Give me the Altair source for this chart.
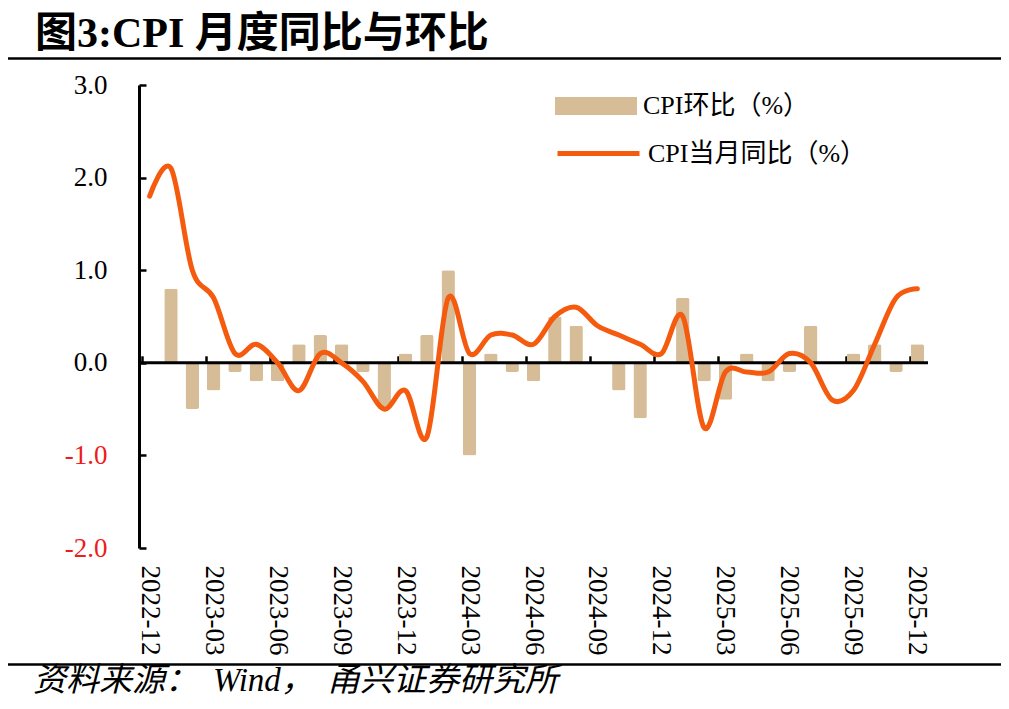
import altair as alt
import pandas as pd

# ---------------- data ----------------
months = [
    "2022-12", "2023-01", "2023-02", "2023-03", "2023-04", "2023-05", "2023-06",
    "2023-07", "2023-08", "2023-09", "2023-10", "2023-11", "2023-12",
    "2024-01", "2024-02", "2024-03", "2024-04", "2024-05", "2024-06",
    "2024-07", "2024-08", "2024-09", "2024-10", "2024-11", "2024-12",
    "2025-01", "2025-02", "2025-03", "2025-04", "2025-05", "2025-06",
    "2025-07", "2025-08", "2025-09", "2025-10", "2025-11", "2025-12",
]
cpi_mom = [0.0, 0.8, -0.5, -0.3, -0.1, -0.2, -0.2, 0.2, 0.3, 0.2, -0.1, -0.5, 0.1,
           0.3, 1.0, -1.0, 0.1, -0.1, -0.2, 0.5, 0.4, 0.0, -0.3, -0.6, 0.0,
           0.7, -0.2, -0.4, 0.1, -0.2, -0.1, 0.4, 0.0, 0.1, 0.2, -0.1, 0.2]
cpi_yoy = [1.8, 2.1, 1.0, 0.7, 0.1, 0.2, 0.0, -0.3, 0.1, 0.0, -0.2, -0.5, -0.3,
           -0.8, 0.7, 0.1, 0.3, 0.3, 0.2, 0.5, 0.6, 0.4, 0.3, 0.2, 0.1,
           0.5, -0.7, -0.1, -0.1, -0.1, 0.1, 0.0, -0.4, -0.3, 0.2, 0.7, 0.8]
label_months = ["2022-12", "2023-03", "2023-06", "2023-09", "2023-12", "2024-03", "2024-06",
                "2024-09", "2024-12", "2025-03", "2025-06", "2025-09", "2025-12"]
y_ticks = [-2, -1, 0, 1, 2, 3]

LABEL_MOM = "CPI环比（%）"
LABEL_YOY = "CPI当月同比（%）"
TITLE = "图3:CPI 月度同比与环比"
SOURCE_PARTS = ["资料来源：", "Wind，", "甬兴证券研究所"]

# ---------------- style ----------------
W, H = 789, 463
FONT = "Liberation Serif, Noto Sans CJK SC"
TAN = "#D6BD97"
ORANGE = "#F55B0E"
ZERO_Y = H * 3 / 5

df = pd.DataFrame({"month": months, "mom": cpi_mom, "yoy": cpi_yoy})
df["s1"] = LABEL_MOM
df["s2"] = LABEL_YOY

x_scale = alt.Scale(domain=months, paddingInner=0.37, paddingOuter=0.185)
y_scale = alt.Scale(domain=[-2, 3], nice=False, zero=False)

base = alt.Chart(df)

bars = base.mark_bar(cornerRadius=2).encode(
    x=alt.X("month:N", scale=x_scale,
            axis=alt.Axis(orient="bottom", values=label_months, labelAngle=90,
                          labelFont="Liberation Serif", labelFontSize=27,
                          labelColor="black", labelPadding=17, ticks=False,
                          domain=False, grid=False, title=None, labelOverlap=False)),
    y=alt.Y("mom:Q", scale=y_scale,
            axis=alt.Axis(orient="left", values=y_ticks,
                          labelExpr="(datum.value < 0 ? '-' : '') + format(abs(datum.value), '.1f')",
                          labelFont="Liberation Serif", labelFontSize=27,
                          labelColor={"condition": {"test": "datum.value < 0", "value": "#EE1C1C"},
                                      "value": "black"},
                          labelPadding=32, ticks=False, domain=True,
                          domainColor="black", domainWidth=3, grid=False, title=None)),
    color=alt.Color("s1:N", scale=alt.Scale(domain=[LABEL_MOM], range=[TAN]),
                    legend=alt.Legend(orient="none", legendX=416, legendY=-20, title=None,
                                      symbolType="M-1,-0.22H1V0.22H-1Z", symbolSize=6724,
                                      symbolStrokeWidth=0, symbolOpacity=1,
                                      labelFont=FONT, labelFontSize=26, labelColor="black",
                                      labelOffset=6, labelLimit=0, padding=0)),
)

zero_rule = alt.Chart(pd.DataFrame({"z": [0]})).mark_rule(color="black", strokeWidth=3).encode(
    y=alt.Y("z:Q", scale=y_scale, axis=None)
)

line = base.mark_line(interpolate="cardinal", strokeWidth=5, strokeCap="round",
                      strokeJoin="round").encode(
    x=alt.X("month:N", scale=x_scale,
            axis=alt.Axis(orient="top", offset=-ZERO_Y, values=label_months, bandPosition=0,
                          labels=False, domain=False, ticks=True, tickSize=7, tickWidth=2.5,
                          tickColor="black", grid=False, title=None)),
    y=alt.Y("yoy:Q", scale=y_scale,
            axis=alt.Axis(orient="right", offset=-W, values=y_ticks, labels=False,
                          domain=False, ticks=True, tickSize=7, tickWidth=2.5,
                          tickColor="black", grid=False, title=None)),
    stroke=alt.Stroke("s2:N", scale=alt.Scale(domain=[LABEL_YOY], range=[ORANGE]),
                      legend=alt.Legend(orient="none", legendX=416, legendY=25, title=None,
                                        symbolType="stroke", symbolSize=6724,
                                        symbolStrokeWidth=5,
                                        labelFont=FONT, labelFontSize=26, labelColor="black",
                                        labelOffset=6, labelLimit=0, padding=0)),
)

frame = pd.DataFrame({"t": [0]})
top_rule = alt.Chart(frame).mark_rule(color="black", strokeWidth=2.5).encode(
    x=alt.value(-133), x2=alt.value(870), y=alt.value(-26.5))
bottom_rule = alt.Chart(frame).mark_rule(color="black", strokeWidth=2.5).encode(
    x=alt.value(-133), x2=alt.value(870), y=alt.value(579.5))

title = alt.Chart(pd.DataFrame({"t": [TITLE]})).mark_text(
    align="left", baseline="alphabetic", font=FONT, fontSize=42, fontWeight="bold",
    color="black").encode(text="t:N", x=alt.value(-104), y=alt.value(-38))


def source_piece(text, xpos):
    return alt.Chart(pd.DataFrame({"t": [text]})).mark_text(
        align="left", baseline="alphabetic", font=FONT, fontSize=33, fontStyle="italic",
        color="black").encode(text="t:N", x=alt.value(xpos), y=alt.value(606))


src1 = source_piece(SOURCE_PARTS[0], -106)
src2 = source_piece(SOURCE_PARTS[1], 74)
src3 = source_piece(SOURCE_PARTS[2], 188)

chart = alt.layer(bars, zero_rule, line, top_rule, bottom_rule, title,
                  src1, src2, src3).resolve_axis(
    x="independent", y="independent"
).properties(
    width=W, height=H,
    padding={"left": 131, "top": 77, "right": 73, "bottom": 153},
    autosize=alt.AutoSizeParams(type="none"),
).configure_view(stroke=None)

chart.save("out.html", embed_options={"renderer": "svg", "actions": False})
